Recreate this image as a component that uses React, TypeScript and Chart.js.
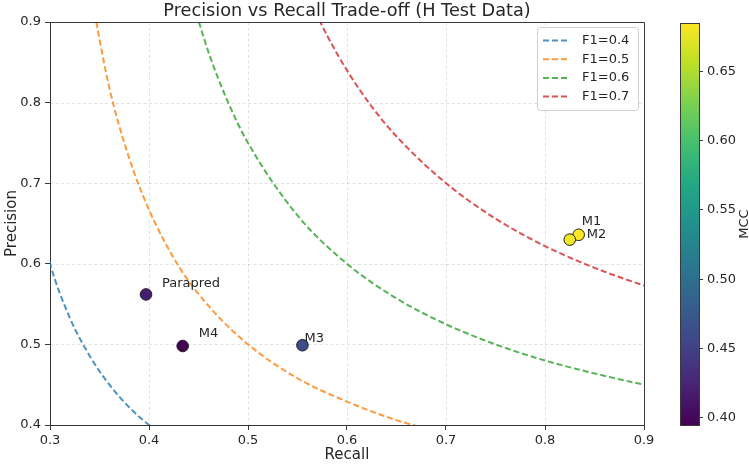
import { useEffect, useRef } from "react";
import { Chart, registerables } from "chart.js";

Chart.register(...registerables);

// Models on the precision/recall plane, coloured by MCC
const modelNames = ["Parapred", "M4", "M3", "M1", "M2"];
const modelRecall = [0.397, 0.434, 0.555, 0.834, 0.825];
const modelPrecision = [0.562, 0.498, 0.499, 0.636, 0.63];
const modelMcc = [0.418, 0.394, 0.462, 0.685, 0.68];

// Colour range of the MCC bar and its ticks
const mccRange = [0.394, 0.685];
const mccTicks = [0.4, 0.45, 0.5, 0.55, 0.6, 0.65];

// Axis ticks
const recallTicks = [0.3, 0.4, 0.5, 0.6, 0.7, 0.8, 0.9];
const precisionTicks = [0.4, 0.5, 0.6, 0.7, 0.8, 0.9];

// Iso-F1 reference curves: recall samples and the precision on each curve
const f1Labels = ["F1=0.4", "F1=0.5", "F1=0.6", "F1=0.7"];
const f1Recall04 = [0.28, 0.3, 0.32, 0.34, 0.36, 0.38, 0.4, 0.42];
const f1Precision04 = [0.7, 0.6, 0.533, 0.486, 0.45, 0.422, 0.4, 0.382];
const f1Recall05 = [0.34, 0.36, 0.38, 0.4, 0.43, 0.46, 0.5, 0.55, 0.6, 0.65, 0.7];
const f1Precision05 = [0.944, 0.818, 0.731, 0.667, 0.597, 0.548, 0.5, 0.458, 0.429, 0.406, 0.389];
const f1Recall06 = [0.44, 0.46, 0.48, 0.5, 0.55, 0.6, 0.65, 0.7, 0.75, 0.8, 0.85, 0.9, 0.92];
const f1Precision06 = [0.943, 0.863, 0.8, 0.75, 0.66, 0.6, 0.557, 0.525, 0.5, 0.48, 0.464, 0.45, 0.445];
const f1Recall07 = [0.56, 0.58, 0.6, 0.625, 0.65, 0.7, 0.75, 0.8, 0.85, 0.9, 0.92];
const f1Precision07 = [0.933, 0.883, 0.84, 0.795, 0.758, 0.7, 0.656, 0.622, 0.595, 0.573, 0.565];

const f1Curves = [
  [f1Recall04, f1Precision04],
  [f1Recall05, f1Precision05],
  [f1Recall06, f1Precision06],
  [f1Recall07, f1Precision07],
];
const f1Colors = [
  "rgba(31,119,180,0.8)",
  "rgba(255,127,14,0.8)",
  "rgba(44,160,44,0.8)",
  "rgba(214,39,40,0.8)",
];

// Pixel nudges for the model name annotations
const labelNudge: Record<string, [number, number]> = {
  Parapred: [16, -11],
  M4: [16, -12],
  M3: [2, -7],
  M1: [3, -13],
  M2: [17, -5],
};

const FONT = '"DejaVu Sans", "Liberation Sans", sans-serif';
const TEXT = "#262626";
const SPINE = "#3a3a3a";
const CURVE_DASH = [6, 3];

const VIRIDIS = [
  "#440154", "#482475", "#414487", "#355f8d", "#2a788e", "#21918c",
  "#22a884", "#44bf70", "#7ad151", "#bddf26", "#fde725",
];

function hexToRgb(h: string) {
  return [parseInt(h.slice(1, 3), 16), parseInt(h.slice(3, 5), 16), parseInt(h.slice(5, 7), 16)];
}

function viridis(t: number) {
  const c = Math.max(0, Math.min(1, t)) * (VIRIDIS.length - 1);
  const i = Math.min(Math.floor(c), VIRIDIS.length - 2);
  const f = c - i;
  const a = hexToRgb(VIRIDIS[i]);
  const b = hexToRgb(VIRIDIS[i + 1]);
  const m = a.map((v, k) => Math.round(v + (b[k] - v) * f));
  return `rgb(${m[0]},${m[1]},${m[2]})`;
}

const mccToT = (v: number) => (v - mccRange[0]) / (mccRange[1] - mccRange[0]);

// Dashed light grid behind the data
const gridPlugin = {
  id: "dashedGrid",
  beforeDatasetsDraw(chart: any) {
    const { ctx, chartArea: a, scales } = chart;
    ctx.save();
    ctx.strokeStyle = "rgba(0,0,0,0.15)";
    ctx.lineWidth = 0.8;
    ctx.setLineDash([3, 2.5]);
    recallTicks.forEach((v) => {
      const x = Math.round(scales.x.getPixelForValue(v)) + 0.5;
      ctx.beginPath();
      ctx.moveTo(x, a.top);
      ctx.lineTo(x, a.bottom);
      ctx.stroke();
    });
    precisionTicks.forEach((v) => {
      const y = Math.round(scales.y.getPixelForValue(v)) + 0.5;
      ctx.beginPath();
      ctx.moveTo(a.left, y);
      ctx.lineTo(a.right, y);
      ctx.stroke();
    });
    ctx.restore();
  },
};

const decorPlugin = {
  id: "decor",
  afterDraw(chart: any) {
    const { ctx, chartArea: a, scales } = chart;
    const xs = scales.x;
    const ys = scales.y;
    ctx.save();

    // top and right spines
    ctx.strokeStyle = SPINE;
    ctx.lineWidth = 1;
    ctx.beginPath();
    ctx.moveTo(a.left, a.top + 0.5);
    ctx.lineTo(a.right + 0.5, a.top + 0.5);
    ctx.lineTo(a.right + 0.5, a.bottom);
    ctx.stroke();

    // title
    ctx.fillStyle = TEXT;
    ctx.font = `17.7px ${FONT}`;
    ctx.textAlign = "center";
    ctx.textBaseline = "middle";
    ctx.fillText("Precision vs Recall Trade-off (H Test Data)", (a.left + a.right) / 2, 11);

    // model annotations
    ctx.font = `13px ${FONT}`;
    ctx.textAlign = "left";
    modelNames.forEach((name, i) => {
      const px = xs.getPixelForValue(modelRecall[i]);
      const py = ys.getPixelForValue(modelPrecision[i]);
      const [dx, dy] = labelNudge[name];
      ctx.fillText(name, px + dx, py + dy);
    });

    // legend
    const lw = 101;
    const lh = 83;
    const lx = a.right - 6 - lw;
    const ly = a.top + 5;
    ctx.fillStyle = "rgba(255,255,255,0.85)";
    ctx.strokeStyle = "#d0d0d0";
    ctx.lineWidth = 1;
    ctx.beginPath();
    (ctx as any).roundRect(lx + 0.5, ly + 0.5, lw, lh, 3);
    ctx.fill();
    ctx.stroke();
    f1Labels.forEach((label, i) => {
      const cy = ly + 13.5 + i * 18.7;
      ctx.strokeStyle = f1Colors[i];
      ctx.lineWidth = 2;
      ctx.setLineDash(CURVE_DASH);
      ctx.beginPath();
      ctx.moveTo(lx + 6, cy);
      ctx.lineTo(lx + 31, cy);
      ctx.stroke();
      ctx.setLineDash([]);
      ctx.fillStyle = TEXT;
      ctx.font = `13px ${FONT}`;
      ctx.textAlign = "left";
      ctx.textBaseline = "middle";
      ctx.fillText(label, lx + 45, cy);
    });

    // MCC colour bar
    const bl = a.right + 36;
    const bw = 19;
    const bt = a.top + 1;
    const bb = a.bottom;
    const grad = ctx.createLinearGradient(0, bb, 0, bt);
    VIRIDIS.forEach((c, i) => grad.addColorStop(i / (VIRIDIS.length - 1), c));
    ctx.fillStyle = grad;
    ctx.fillRect(bl, bt, bw, bb - bt);
    ctx.strokeStyle = SPINE;
    ctx.lineWidth = 1;
    ctx.strokeRect(bl + 0.5, bt + 0.5, bw, bb - bt);
    ctx.fillStyle = TEXT;
    ctx.font = `13px ${FONT}`;
    ctx.textAlign = "left";
    ctx.textBaseline = "middle";
    mccTicks.forEach((v) => {
      const y = Math.round(bb - mccToT(v) * (bb - bt)) + 0.5;
      ctx.beginPath();
      ctx.moveTo(bl + bw, y);
      ctx.lineTo(bl + bw + 4, y);
      ctx.stroke();
      ctx.fillText(v.toFixed(2), bl + bw + 8, y);
    });
    ctx.save();
    ctx.translate(745, (bt + bb) / 2);
    ctx.rotate(-Math.PI / 2);
    ctx.textAlign = "center";
    ctx.textBaseline = "middle";
    ctx.font = `13px ${FONT}`;
    ctx.fillText("MCC", 0, 0);
    ctx.restore();

    ctx.restore();
  },
};

export default function App() {
  const ref = useRef<HTMLCanvasElement | null>(null);

  useEffect(() => {
    document.body.style.margin = "0";
    const canvas = ref.current;
    if (!canvas) return;

    const curveSets = f1Curves.map(([rs, ps], i) => ({
      type: "scatter" as const,
      label: f1Labels[i],
      data: rs.map((r, k) => ({ x: r, y: ps[k] })),
      showLine: true,
      borderColor: f1Colors[i],
      backgroundColor: f1Colors[i],
      borderWidth: 2,
      borderDash: CURVE_DASH,
      pointRadius: 0,
      cubicInterpolationMode: "monotone" as const,
      order: 2,
    }));

    const pointSet = {
      type: "scatter" as const,
      label: "Models",
      data: modelNames.map((_, i) => ({ x: modelRecall[i], y: modelPrecision[i] })),
      backgroundColor: modelMcc.map((m) => viridis(mccToT(m))),
      borderColor: "#1e1e1e",
      borderWidth: 1,
      pointRadius: 5.8,
      order: 0,
    };

    const axisGrid = {
      drawOnChartArea: false,
      drawTicks: true,
      tickColor: SPINE,
      tickWidth: 1,
      tickLength: 5,
    };

    const chart = new Chart(canvas, {
      type: "scatter",
      data: { datasets: [pointSet, ...curveSets] as any },
      options: {
        animation: false,
        responsive: false,
        events: [],
        layout: { padding: { top: 22, right: 105, left: 0, bottom: 0 } },
        plugins: { legend: { display: false }, title: { display: false }, tooltip: { enabled: false } },
        scales: {
          x: {
            type: "linear",
            min: 0.3,
            max: 0.9,
            afterBuildTicks: (s: any) => {
              s.ticks = recallTicks.map((v) => ({ value: v }));
            },
            afterFit: (s: any) => {
              s.height = 39;
            },
            grid: axisGrid as any,
            border: { display: true, color: SPINE, width: 1 },
            ticks: {
              color: TEXT,
              padding: 3,
              font: { family: FONT, size: 13 },
              callback: (v: any) => Number(v).toFixed(1),
            },
            title: {
              display: true,
              text: "Recall",
              color: TEXT,
              font: { family: FONT, size: 15 },
              padding: { top: 0, bottom: 0 },
            },
          },
          y: {
            type: "linear",
            min: 0.4,
            max: 0.9,
            afterBuildTicks: (s: any) => {
              s.ticks = precisionTicks.map((v) => ({ value: v }));
            },
            afterFit: (s: any) => {
              s.width = 50;
            },
            grid: axisGrid as any,
            border: { display: true, color: SPINE, width: 1 },
            ticks: {
              color: TEXT,
              padding: 4,
              font: { family: FONT, size: 13 },
              callback: (v: any) => Number(v).toFixed(1),
            },
            title: {
              display: true,
              text: "Precision",
              color: TEXT,
              font: { family: FONT, size: 15 },
              padding: { top: 3, bottom: 0 },
            },
          },
        },
      },
      plugins: [gridPlugin, decorPlugin],
    });

    return () => chart.destroy();
  }, []);

  return (
    <div style={{ width: 749, height: 464 }}>
      <canvas ref={ref} width={749} height={464} style={{ display: "block", width: 749, height: 464 }} />
    </div>
  );
}
